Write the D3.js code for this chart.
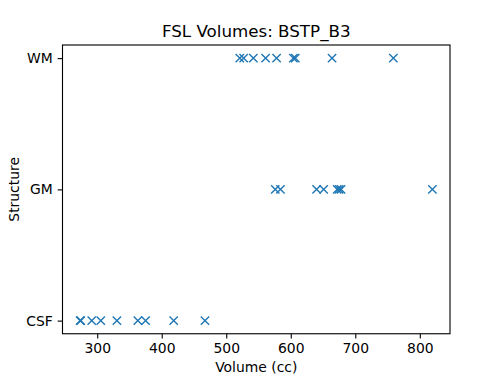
<!DOCTYPE html>
<html>
<head>
<meta charset="utf-8">
<script src="https://cdn.jsdelivr.net/npm/d3@7"></script>
<style>
  html, body { margin: 0; padding: 0; background: #fff; }
  svg { display: block; font-family: "DejaVu Sans", sans-serif; }
</style>
</head>
<body>
<svg id="chart" width="500" height="375"></svg>
<script>
const categories = ["CSF", "GM", "WM"];
const csfValues = [273.5, 274.5, 291.5, 305.5, 330.5, 363, 375, 418.5, 467];
const gmValues = [576, 584, 640, 651, 672, 675, 678, 819.5];
const wmValues = [521, 527, 542, 561, 578, 604, 607, 664, 759];
const xTicks = [300, 400, 500, 600, 700, 800];
const title = "FSL Volumes: BSTP_B3";
const xLabel = "Volume (cc)";
const yLabel = "Structure";

(function () {
const points = [];
csfValues.forEach(v => points.push({cat: "CSF", v}));
gmValues.forEach(v => points.push({cat: "GM", v}));
wmValues.forEach(v => points.push({cat: "WM", v}));

const mLeft = 62.5, mRight = 450, mTop = 45, mBottom = 333.75;

const allV = points.map(d => d.v);
const vmin = d3.min(allV), vmax = d3.max(allV), r = vmax - vmin;
const x = d3.scaleLinear().domain([vmin - 0.05 * r, vmax + 0.05 * r]).range([mLeft, mRight]);
const yIdx = d3.scaleLinear().domain([-0.1, 2.1]).range([mBottom, mTop]);
const y = c => yIdx(categories.indexOf(c));

const svg = d3.select("#chart");
const color = "#1f77b4";

// markers
const ms = 8.33 / 2;
const g = svg.append("g");
points.forEach(p => {
  const cx = x(p.v), cy = y(p.cat);
  g.append("path")
    .attr("d", `M${cx - ms},${cy - ms}L${cx + ms},${cy + ms}M${cx - ms},${cy + ms}L${cx + ms},${cy - ms}`)
    .attr("stroke", color)
    .attr("stroke-width", 1.39)
    .attr("fill", "none");
});

// axes
const xAxis = d3.axisBottom(x).tickValues(xTicks).tickSize(4.86).tickPadding(4.86).tickFormat(d3.format("d"));
const xg = svg.append("g").attr("transform", `translate(0,${mBottom})`).call(xAxis);
const yAxis = d3.axisLeft(yIdx).tickValues([0, 1, 2]).tickSize(4.86).tickPadding(4.86).tickFormat(i => categories[i]);
const yg = svg.append("g").attr("transform", `translate(${mLeft},0)`).call(yAxis);
[xg, yg].forEach(a => {
  a.select(".domain").remove();
  a.selectAll(".tick line").attr("stroke", "#000").attr("stroke-width", 1.11);
  a.selectAll(".tick text").attr("fill", "#000").attr("font-size", "13.9px").attr("font-family", "DejaVu Sans, sans-serif");
});

// frame
svg.append("rect")
  .attr("x", mLeft).attr("y", mTop)
  .attr("width", mRight - mLeft).attr("height", mBottom - mTop)
  .attr("fill", "none").attr("stroke", "#000").attr("stroke-width", 1.11);

// title
svg.append("text")
  .attr("x", (mLeft + mRight) / 2).attr("y", 37)
  .attr("text-anchor", "middle")
  .attr("font-size", "16.7px")
  .attr("fill", "#000")
  .text(title);

// x label
svg.append("text")
  .attr("x", (mLeft + mRight) / 2).attr("y", 371.5)
  .attr("text-anchor", "middle")
  .attr("font-size", "13.9px")
  .attr("fill", "#000")
  .text(xLabel);

// y label
svg.append("text")
  .attr("transform", `translate(18.5,${(mTop + mBottom) / 2}) rotate(-90)`)
  .attr("text-anchor", "middle")
  .attr("font-size", "13.9px")
  .attr("fill", "#000")
  .text(yLabel);
})();
</script>
</body>
</html>
